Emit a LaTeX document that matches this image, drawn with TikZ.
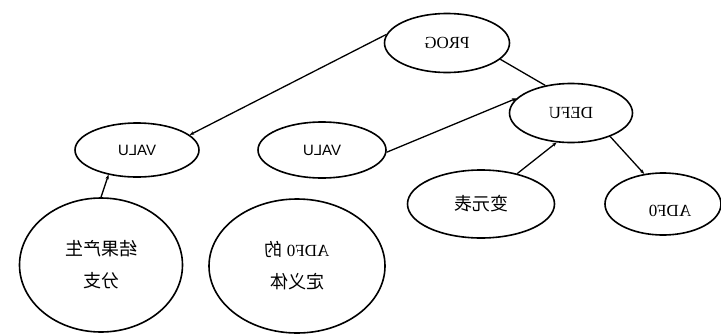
\documentclass[tikz,border=0pt]{standalone}
\usepackage{fontspec}
\usepackage{graphicx}
\setmainfont{Liberation Serif}
\newfontfamily\sansf{Liberation Sans}
\newfontfamily\cjk{Noto Sans CJK SC}
\usetikzlibrary{shapes.geometric,arrows.meta}
\tikzset{
  oval/.style={ellipse, draw, line width=1.6pt, inner sep=0pt, font=\fontsize{17}{20}\selectfont},
  link/.style={line width=1.3pt},
  tolink/.style={link, -{Stealth[length=4.5pt,width=3.5pt]}},
}
\newcommand{\rl}[1]{\reflectbox{#1}}
\begin{document}
\begin{tikzpicture}[x=1pt,y=-1pt]
\useasboundingbox (0,0) rectangle (721,333);
\fill[white] (0,0) rectangle (721,333);

% tree nodes (layout is drawn right-to-left, text reflected)
\node[oval, minimum width=125pt, minimum height=59pt] (prog) at (447,43) {\rl{PROG}};
\node[oval, minimum width=123pt, minimum height=59pt] (defu) at (571,113) {\rl{DEFU}};
\node[oval, minimum width=124pt, minimum height=54pt] (valua) at (137,150) {\rl{\sansf\fontsize{15}{18}\selectfont VALU}};
\node[oval, minimum width=128pt, minimum height=56pt] (valub) at (322,150) {\rl{\sansf\fontsize{15}{18}\selectfont VALU}};
\node[oval, minimum width=147pt, minimum height=68pt] (vars) at (481,204) {\rl{\cjk\fontsize{18}{20}\selectfont 变元表}};
\node[oval, minimum width=116pt, minimum height=62pt] (adf) at (663,204) {};
\node[font=\fontsize{17}{20}\selectfont] (adftxt) at (670,211) {\rl{ADF0}};
\node[oval, minimum width=163pt, minimum height=134pt, align=center] (res) at (101,265)
  {\rl{\cjk\fontsize{18}{20}\selectfont 结果产生}\\[12pt]\rl{\cjk\fontsize{18}{20}\selectfont 分支}};
\node[oval, minimum width=176pt, minimum height=134pt, align=center] (def) at (297,266)
  {\rl{ADF0 \cjk\fontsize{18}{20}\selectfont 的}\\[12pt]\rl{\cjk\fontsize{18}{20}\selectfont 定义体}};

% connectors
\draw[tolink] (prog.172) -- (valua.16);
\draw[link] (prog.343) -- (defu.133);
\draw[tolink] (valub.358) -- (defu.165);
\draw[tolink] (vars.40) -- (defu.244);
\draw[tolink] (defu.329) -- (adf.122);
\draw[tolink] (res.90) -- (valua.221);
\end{tikzpicture}
\end{document}
